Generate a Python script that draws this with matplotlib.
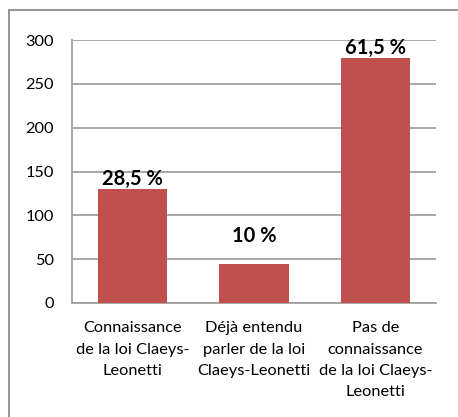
import matplotlib.pyplot as plt
from matplotlib.patches import Rectangle

categories = ["Connaissance\nde la loi Claeys-\nLeonetti",
              "Déjà entendu\nparler de la loi\nClaeys-Leonetti",
              "Pas de\nconnaissance\nde la loi Claeys-\nLeonetti"]
values = [130, 45, 280]
pct_labels = ["28,5 %", "10 %", "61,5 %"]

plt.rcParams['font.family'] = ['Lato', 'DejaVu Sans']

W, H = 458, 417
fig = plt.figure(figsize=(W / 100, H / 100), dpi=100)
ax = fig.add_axes([72 / W, 1 - 303 / H, (436 - 72) / W, (303 - 40) / H])

x = range(len(values))
ax.bar(x, values, width=0.57, color='#c0504d', zorder=3)
ax.set_xlim(-0.5, 2.5)
ax.set_ylim(0, 300)
ax.set_yticks(range(0, 301, 50))
ax.yaxis.grid(True, color='#a0a0a0', linewidth=1.3, zorder=0)
ax.set_xticks(list(x))
ax.set_xticklabels(categories, fontsize=11.8, linespacing=1.68)
ax.tick_params(axis='y', labelsize=11.8, length=0, pad=13)
ax.tick_params(axis='x', length=0, pad=13)
for s in ['top', 'right']:
    ax.spines[s].set_visible(False)
for s in ['left', 'bottom']:
    ax.spines[s].set_color('#a0a0a0')
    ax.spines[s].set_linewidth(1.3)

offsets = [7, 20, 7]
for i, (v, t) in enumerate(zip(values, pct_labels)):
    ax.annotate(t, (i, v), xytext=(0, offsets[i]), textcoords='offset points',
                ha='center', va='center', fontsize=14.5, fontweight='bold', zorder=4)

# outer chart frame, cut by image edge
fig.patches.append(Rectangle((9 / W, -0.1), 1.2, 1 - 10 / H + 0.1, transform=fig.transFigure,
                             fill=False, edgecolor='#8c8c8c', linewidth=1.3))

fig.savefig('out.png', dpi=100)
